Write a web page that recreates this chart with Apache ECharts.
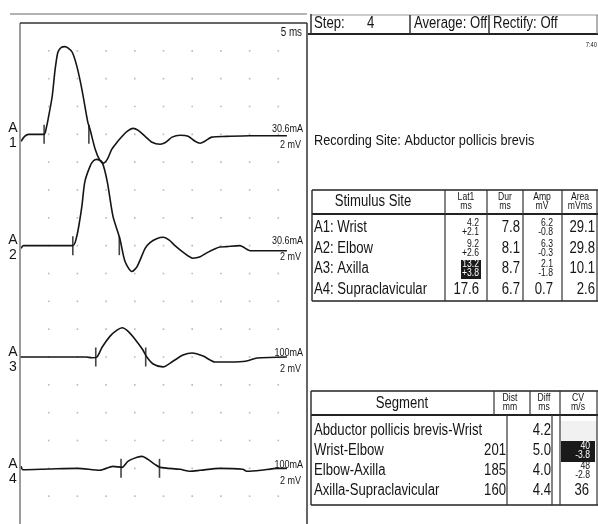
<!DOCTYPE html>
<html>
<head>
<meta charset="utf-8">
<script src="https://cdn.jsdelivr.net/npm/echarts@6/dist/echarts.min.js"></script>
<style>
html, body { margin: 0; padding: 0; background: #fff; }
#main { width: 598px; height: 524px; }
</style>
</head>
<body>
<div id="main"></div>
<script>
// ---- data ----
var traceNames = ['1', '2', '3', '4'];
var stimCurrent = ['30.6mA', '30.6mA', '100mA', '100mA'];
var gainText = '2 mV';
var sweepText = '5 ms';

// [time ms, amplitude mV] relative to each trace's own baseline
var trace1 = [[0.2,-0.5],[0.8,-0.15],[1.5,0],[4.2,0],[4.6,0.5],[4.9,1.1],[5.6,2.7],[6.1,4.6],[6.6,5.9],[7.2,6.25],[7.8,6.3],[8.4,6.2],[9.1,5.9],[9.9,4.9],[10.8,3.2],[11.8,0.9],[12.2,0.36],[13.1,-1.07],[13.9,-1.86],[14.5,-2.07],[15.2,-1.8],[16.0,-1.07],[16.9,-0.57],[17.8,-0.14],[18.6,0.2],[19.7,0.43],[20.6,0.29],[21.8,-0.14],[23.0,-0.57],[24.4,-0.71],[25.4,-0.57],[26.5,-0.2],[27.9,-0.07],[29.3,-0.14],[30.5,-0.5],[31.4,-0.64],[32.2,-0.5],[33.4,-0.2],[36,-0.15],[40,-0.1],[46.5,-0.1]];
var trace2 = [[0.2,-0.2],[0.6,0],[9.2,0],[9.9,0.7],[10.4,1.8],[10.8,2.9],[11.3,4.6],[12.2,5.7],[12.8,6.1],[13.4,6.2],[14.3,6.0],[15.2,4.6],[16.2,2.1],[17.4,0.5],[18.3,-1.14],[19.5,-1.86],[20.4,-1.5],[21.8,-0.2],[22.6,0.2],[23.8,0.5],[25.0,0.6],[26,0.4],[27,0],[28.5,-0.5],[30.1,-0.9],[31.4,-0.8],[32.6,-0.5],[34.8,-0.1],[36,-0.07],[38.3,0],[40.1,-0.36],[43,-0.36],[46.5,-0.36]];
var trace3 = [[0,0],[8,0],[11.5,0],[12.5,-0.05],[13.4,0],[14.3,0.7],[15.7,1.5],[16.9,1.93],[17.8,2.1],[18.8,1.86],[20,1.3],[21.3,0.57],[22.1,0],[23.2,-0.5],[24.9,-0.71],[26.7,-0.29],[28.4,0.14],[30,0.29],[31.9,0.07],[34.0,-0.36],[36.6,-0.36],[39.5,-0.29],[41.3,-0.07],[46.5,0]];
var trace4 = [[0.2,0.15],[0.5,-0.1],[5,-0.05],[10,0],[13.9,-0.14],[16.2,0.14],[17.8,0.07],[18.8,0.5],[20.4,0.79],[21.3,0.86],[22.3,0.64],[23.5,0.29],[24.4,0.07],[27.9,-0.07],[29.6,-0.21],[31.4,-0.14],[34.8,0],[38.8,-0.07],[39.5,-0.21],[42,-0.14],[44.8,0],[46.5,0]];

var headerItems = ['Step:', '4', 'Average: Off', 'Rectify: Off'];
var timeStamp = '7:40';
var recordingSite = 'Recording Site: Abductor pollicis brevis';

var stimHeader = ['Stimulus Site', 'Lat1\nms', 'Dur\nms', 'Amp\nmV', 'Area\nmVms'];
var stimSites = ['A1: Wrist', 'A2: Elbow', 'A3: Axilla', 'A4: Supraclavicular'];
var lat1 = [4.2, 9.2, 13.2, 17.6];
var lat1Diff = ['+2.1', '+2.6', '+3.8', null];
var dur = [7.8, 8.1, 8.7, 6.7];
var amp = [6.2, 6.3, 2.1, 0.7];
var ampDiff = ['-0.8', '-0.3', '-1.8', null];
var area = [29.1, 29.8, 10.1, 2.6];

var segHeader = ['Segment', 'Dist\nmm', 'Diff\nms', 'CV\nm/s'];
var segments = ['Abductor pollicis brevis-Wrist', 'Wrist-Elbow', 'Elbow-Axilla', 'Axilla-Supraclavicular'];
var dist = [null, 201, 185, 160];
var diff = [4.2, 5.0, 4.0, 4.4];
var cv = [null, 40, 48, 36];
var cvDiff = [null, '-3.8', '-2.8', null];

// ---- layout ----
// no Arial Narrow here, so Liberation Sans squeezed horizontally stands in for it
var FONT = "'Liberation Sans', Arial, sans-serif";
var NARROW = 0.82;
var traceGap = 8;           // mV between baselines (4 divisions of 2 mV)
var ink = '#151515';
var gridLeft = 20, gridTop = 23, gridW = 287, gridH = 504;

var traces = [trace1, trace2, trace3, trace4];
function baseOf(i) { return -traceGap * (i + 1); }

var dots = [];
for (var t = 5; t < 50; t += 5) {
    for (var v = -34; v < 0; v += 2) dots.push([t, v]);
}

var markers = [];
for (var i = 0; i < 4; i++) {
    markers.push([lat1[i], baseOf(i)]);
    markers.push([lat1[i] + dur[i], baseOf(i)]);
}

var series = [{
    type: 'scatter', data: dots, symbol: 'rect', symbolSize: 1.6,
    itemStyle: { color: '#a8a8a8' }, silent: true, z: 1
}];
traces.forEach(function (tr, i) {
    series.push({
        type: 'line', data: tr.map(function (p) { return [p[0], p[1] + baseOf(i)]; }),
        symbol: 'none', smooth: 0.25, lineStyle: { color: ink, width: 1.6 }, z: 3
    });
});
series.push({
    type: 'scatter', data: markers, symbol: 'rect', symbolSize: [1.6, 19],
    itemStyle: { color: ink }, z: 4
});

var g = [];
function txt(x, y, s, size, opt) {
    opt = opt || {};
    g.push({
        type: 'text', x: x, y: y, z: 10,
        scaleX: opt.sx === undefined ? NARROW : opt.sx,
        style: {
            text: s, fill: opt.fill || ink,
            font: (opt.weight || 'normal') + ' ' + size + 'px ' + FONT,
            textAlign: opt.align || 'left', align: opt.align || 'left',
            textVerticalAlign: 'middle', verticalAlign: 'middle',
            lineHeight: opt.lh || size
        }
    });
}
function ln(x1, y1, x2, y2, w, c) {
    g.push({ type: 'line', z: 9, shape: { x1: x1, y1: y1, x2: x2, y2: y2 }, style: { stroke: c || '#222', lineWidth: w || 1 } });
}
function box(x, y, w, h, c) {
    g.push({ type: 'rect', z: 8, shape: { x: x, y: y, width: w, height: h }, style: { fill: c } });
}

// waveform panel furniture
ln(10, 14, 307, 14, 1.5, '#9a9a9a');
ln(gridLeft, gridTop, gridLeft, 524, 1.5, '#7a7a7a');
ln(gridLeft, gridTop, gridLeft + gridW, gridTop, 1.5, '#333');
ln(gridLeft + gridW, gridTop, gridLeft + gridW, 524, 1.5, '#333');
txt(302, 33, sweepText, 12, { align: 'right' });
for (var k = 0; k < 4; k++) {
    var by = gridTop + (-baseOf(k)) * (gridH / 36);
    txt(13, by - 7, 'A', 14, { align: 'center', sx: 1 });
    txt(13, by + 8, traceNames[k], 14, { align: 'center', sx: 1 });
    txt(303, by - 6, stimCurrent[k], 11, { align: 'right' });
    txt(301, by + 10, gainText, 11, { align: 'right' });
}

// header strip
ln(311, 15, 598, 15, 1, '#999');
ln(308, 34, 598, 34, 2, '#222');
ln(311, 14, 311, 34, 1.5, '#333');
ln(410, 15, 410, 34, 1.5, '#333');
ln(489, 15, 489, 34, 1.5, '#333');
ln(597, 15, 597, 34, 1, '#666');
txt(314, 24, headerItems[0], 16);
txt(367, 24, headerItems[1], 16);
txt(414, 24, headerItems[2], 16);
txt(493, 24, headerItems[3], 16);
txt(597, 45, timeStamp, 7, { align: 'right' });
txt(314, 141, recordingSite, 15.5);

// stimulus table
var t1 = { top: 190, head: 214, bottom: 301, rows: [228, 249, 269, 290], cols: [312, 445, 487, 523, 562, 597] };
ln(t1.cols[0], t1.top, 598, t1.top, 1.5);
ln(t1.cols[0], t1.head, 598, t1.head, 2);
ln(t1.cols[0], t1.bottom, 598, t1.bottom, 1.5);
t1.cols.forEach(function (x, j) { ln(x, t1.top, x, t1.bottom, j === 0 ? 1.5 : 1.2, '#333'); });
txt(373, 202, stimHeader[0], 16, { align: 'center' });
[466, 505, 542, 580].forEach(function (cx, j) { txt(cx, 202, stimHeader[j + 1], 10.5, { align: 'center', lh: 9 }); });
stimSites.forEach(function (s, r) {
    var y = t1.rows[r];
    txt(314, y, s, 16);
    if (lat1Diff[r]) {
        if (r === 2) box(461, y - 9, 20, 19, '#1a1a1a');
        var f = r === 2 ? '#fff' : ink;
        txt(479, y - 4.5, lat1[r].toFixed(1), 10.5, { align: 'right', fill: f });
        txt(479, y + 4.5, lat1Diff[r], 10.5, { align: 'right', fill: f });
    } else {
        txt(479, y, lat1[r].toFixed(1), 16, { align: 'right' });
    }
    txt(520, y, dur[r].toFixed(1), 16, { align: 'right' });
    if (ampDiff[r]) {
        txt(553, y - 4.5, amp[r].toFixed(1), 10.5, { align: 'right' });
        txt(553, y + 4.5, ampDiff[r], 10.5, { align: 'right' });
    } else {
        txt(553, y, amp[r].toFixed(1), 16, { align: 'right' });
    }
    txt(595, y, area[r].toFixed(1), 16, { align: 'right' });
});

// segment table
var t2 = { top: 391, head: 415, bottom: 505, rows: [431, 451, 471, 491] };
ln(311, t2.top, 598, t2.top, 1.5);
ln(311, t2.head, 598, t2.head, 2);
ln(311, t2.bottom, 598, t2.bottom, 1.5);
ln(311, t2.top, 311, t2.bottom, 1.5, '#333');
[494, 530].forEach(function (x) { ln(x, t2.top, x, t2.head, 1.2, '#333'); });
[507, 552].forEach(function (x) { ln(x, t2.head, x, t2.bottom, 1.2, '#333'); });
ln(560, t2.top, 560, t2.bottom, 1.2, '#333');
ln(597, t2.top, 597, t2.bottom, 1.2, '#333');
txt(402, 404, segHeader[0], 16, { align: 'center' });
[510, 544, 578].forEach(function (cx, j) { txt(cx, 403, segHeader[j + 1], 10.5, { align: 'center', lh: 9 }); });
segments.forEach(function (s, r) {
    var y = t2.rows[r];
    txt(314, y, s, 16);
    if (dist[r] !== null) txt(506, y, String(dist[r]), 16, { align: 'right' });
    txt(551, y, diff[r].toFixed(1), 16, { align: 'right' });
    if (cv[r] === null) {
        box(561, y - 10, 36, 20, '#f1f1f1');
    } else if (cvDiff[r]) {
        var dark = r === 1;
        if (dark) box(561, y - 10, 34, 21, '#1a1a1a');
        var f = dark ? '#fff' : ink;
        txt(590, y - 4.5, String(cv[r]), 10.5, { align: 'right', fill: f });
        txt(590, y + 4.5, cvDiff[r], 10.5, { align: 'right', fill: f });
    } else {
        txt(589, y, String(cv[r]), 16, { align: 'right' });
    }
});

var chart = echarts.init(document.getElementById('main'), null, { renderer: 'canvas' });
chart.setOption({
    animation: false,
    backgroundColor: '#fff',
    grid: { left: gridLeft, top: gridTop, width: gridW, height: gridH, show: false },
    xAxis: { type: 'value', min: 0, max: 50, show: false },
    yAxis: { type: 'value', min: -36, max: 0, show: false },
    series: series,
    graphic: g
});
</script>
</body>
</html>
